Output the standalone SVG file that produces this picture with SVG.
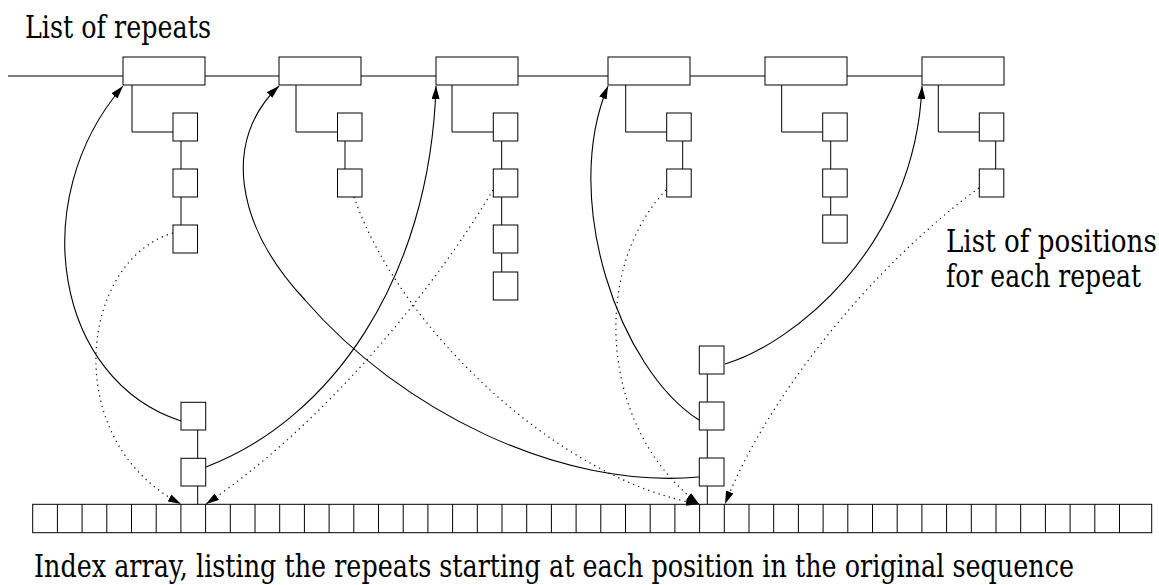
<svg xmlns="http://www.w3.org/2000/svg" width="1159" height="585" viewBox="0 0 1159 585">
<style>
.box{fill:#fff;stroke:#000;stroke-width:1}
.ln{fill:none;stroke:#000;stroke-width:1}
.cv{fill:none;stroke:#000;stroke-width:1.1}
.dt{fill:none;stroke:#000;stroke-width:1.2;stroke-dasharray:1.2 4.2}
.t{font-family:'DejaVu Serif','Liberation Serif',serif;font-size:31px;fill:#000}
</style>
<defs>
<marker id="ah" markerUnits="userSpaceOnUse" viewBox="0 0 13 8" refX="13" refY="4" markerWidth="13" markerHeight="8" orient="auto">
<path d="M0,0 L13,4 L0,8 Z" fill="#000"/>
</marker>
</defs>
<rect width="1159" height="585" fill="#fff"/>

<text class="t" transform="translate(25,38) scale(0.83,1)" x="0" y="0" textLength="224" lengthAdjust="spacingAndGlyphs">List of repeats</text>
<text class="t" transform="translate(946,252) scale(0.83,1)" x="0" y="0" textLength="254" lengthAdjust="spacingAndGlyphs">List of positions</text>
<text class="t" transform="translate(946,287) scale(0.83,1)" x="0" y="0" textLength="235" lengthAdjust="spacingAndGlyphs">for each repeat</text>
<text class="t" transform="translate(34,577) scale(0.83,1)" x="0" y="0" textLength="1253" lengthAdjust="spacingAndGlyphs">Index array, listing the repeats starting at each position in the original sequence</text>

<g id="repeat-list-line">
<path class="ln" d="M8,76 H123 M205,76 H279 M361,76 H436 M518,76 H608 M690,76 H765 M847,76 H922"/>
</g>

<g id="repeat1">
<rect class="box" x="123" y="57" width="82" height="28"/>
<path class="ln" d="M132,85 V132 H173 M181,141 V169 M181,197 V225"/>
<rect class="box" x="173" y="113" width="24.5" height="28"/>
<rect class="box" x="173" y="169" width="24.5" height="28"/>
<rect class="box" x="173" y="225" width="24.5" height="28"/>
</g>
<g id="repeat2">
<rect class="box" x="279" y="57" width="82" height="28"/>
<path class="ln" d="M296,85 V132 H337.5 M345,141 V169"/>
<rect class="box" x="337.5" y="113" width="24.5" height="28"/>
<rect class="box" x="337.5" y="169" width="24.5" height="28"/>
</g>
<g id="repeat3">
<rect class="box" x="436" y="57" width="82" height="28"/>
<path class="ln" d="M452,85 V132 H493.3 M501.7,141 V169 M501.7,197 V225 M501.7,253 V272"/>
<rect class="box" x="493.3" y="113" width="24.5" height="28"/>
<rect class="box" x="493.3" y="169" width="24.5" height="28"/>
<rect class="box" x="493.3" y="225" width="24.5" height="28"/>
<rect class="box" x="493.3" y="272" width="24.5" height="28"/>
</g>
<g id="repeat4">
<rect class="box" x="608" y="57" width="82" height="28"/>
<path class="ln" d="M625.7,85 V132 H666.7 M682.7,141 V169"/>
<rect class="box" x="666.7" y="113" width="24.5" height="28"/>
<rect class="box" x="666.7" y="169" width="24.5" height="28"/>
</g>
<g id="repeat5">
<rect class="box" x="765" y="57" width="82" height="28"/>
<path class="ln" d="M781.7,85 V132 H822.7 M830.7,141 V169 M830.7,197 V215"/>
<rect class="box" x="822.7" y="113" width="24.5" height="28"/>
<rect class="box" x="822.7" y="169" width="24.5" height="28"/>
<rect class="box" x="822.7" y="215" width="24.5" height="28"/>
</g>
<g id="repeat6">
<rect class="box" x="922" y="57" width="82" height="28"/>
<path class="ln" d="M938.3,85 V132 H979.3 M995.7,141 V169"/>
<rect class="box" x="979.3" y="113" width="24.5" height="28"/>
<rect class="box" x="979.3" y="169" width="24.5" height="28"/>
</g>

<g id="index-array">
<rect class="box" x="32.7" y="504.3" width="1119" height="28.4"/>
<path class="ln" d="M57.4,504.3V532.7M82.1,504.3V532.7M106.8,504.3V532.7M131.5,504.3V532.7M156.2,504.3V532.7M180.9,504.3V532.7M205.6,504.3V532.7M230.3,504.3V532.7M255,504.3V532.7M279.7,504.3V532.7M304.4,504.3V532.7M329.1,504.3V532.7M353.8,504.3V532.7M378.5,504.3V532.7M403.2,504.3V532.7M427.9,504.3V532.7M452.6,504.3V532.7M477.3,504.3V532.7M502,504.3V532.7M526.7,504.3V532.7M551.4,504.3V532.7M576.1,504.3V532.7M600.8,504.3V532.7M625.5,504.3V532.7M650.2,504.3V532.7M674.9,504.3V532.7M699.6,504.3V532.7M724.3,504.3V532.7M749,504.3V532.7M773.7,504.3V532.7M798.4,504.3V532.7M823.1,504.3V532.7M847.8,504.3V532.7M872.5,504.3V532.7M897.2,504.3V532.7M921.9,504.3V532.7M946.6,504.3V532.7M971.3,504.3V532.7M996,504.3V532.7M1020.7,504.3V532.7M1045.4,504.3V532.7M1070.1,504.3V532.7M1094.8,504.3V532.7M1119.5,504.3V532.7"/>
</g>

<g id="positions-left">
<path class="ln" d="M197.7,430 V458.3 M197.7,486 V504.3"/>
<rect class="box" x="181" y="402.3" width="24.7" height="27.7"/>
<rect class="box" x="181" y="458.3" width="24.7" height="27.7"/>
</g>
<g id="positions-right">
<path class="ln" d="M707.3,374 V402 M707.3,430 V458 M707.3,486 V504.3"/>
<rect class="box" x="699.3" y="346" width="24.7" height="28"/>
<rect class="box" x="699.3" y="402" width="24.7" height="28"/>
<rect class="box" x="699.3" y="458" width="24.7" height="28"/>
</g>

<g id="connectors">
<path class="cv" marker-end="url(#ah)" d="M181,421 C55,380 25,200 123,86"/>
<path class="cv" marker-end="url(#ah)" d="M206,467 C330,420 430,280 436,86"/>
<path class="cv" marker-end="url(#ah)" d="M699,477 C560,490 400,410 305,300 C235,225 222,140 279,86"/>
<path class="cv" marker-end="url(#ah)" d="M699,420 C620,370 560,200 608,86"/>
<path class="cv" marker-end="url(#ah)" d="M725,364 C790,345 915,250 922,86"/>
<path class="dt" marker-end="url(#ah)" d="M173,233 C80,260 58,440 181,504"/>
<path class="dt" marker-end="url(#ah)" d="M493,190 C440,280 330,420 206,504"/>
<path class="dt" marker-end="url(#ah)" d="M354,197 C400,330 560,480 699,504"/>
<path class="dt" marker-end="url(#ah)" d="M666,190 C590,270 600,430 699,504"/>
<path class="dt" marker-end="url(#ah)" d="M979,188 C880,260 770,390 725,504"/>
</g>
</svg>
